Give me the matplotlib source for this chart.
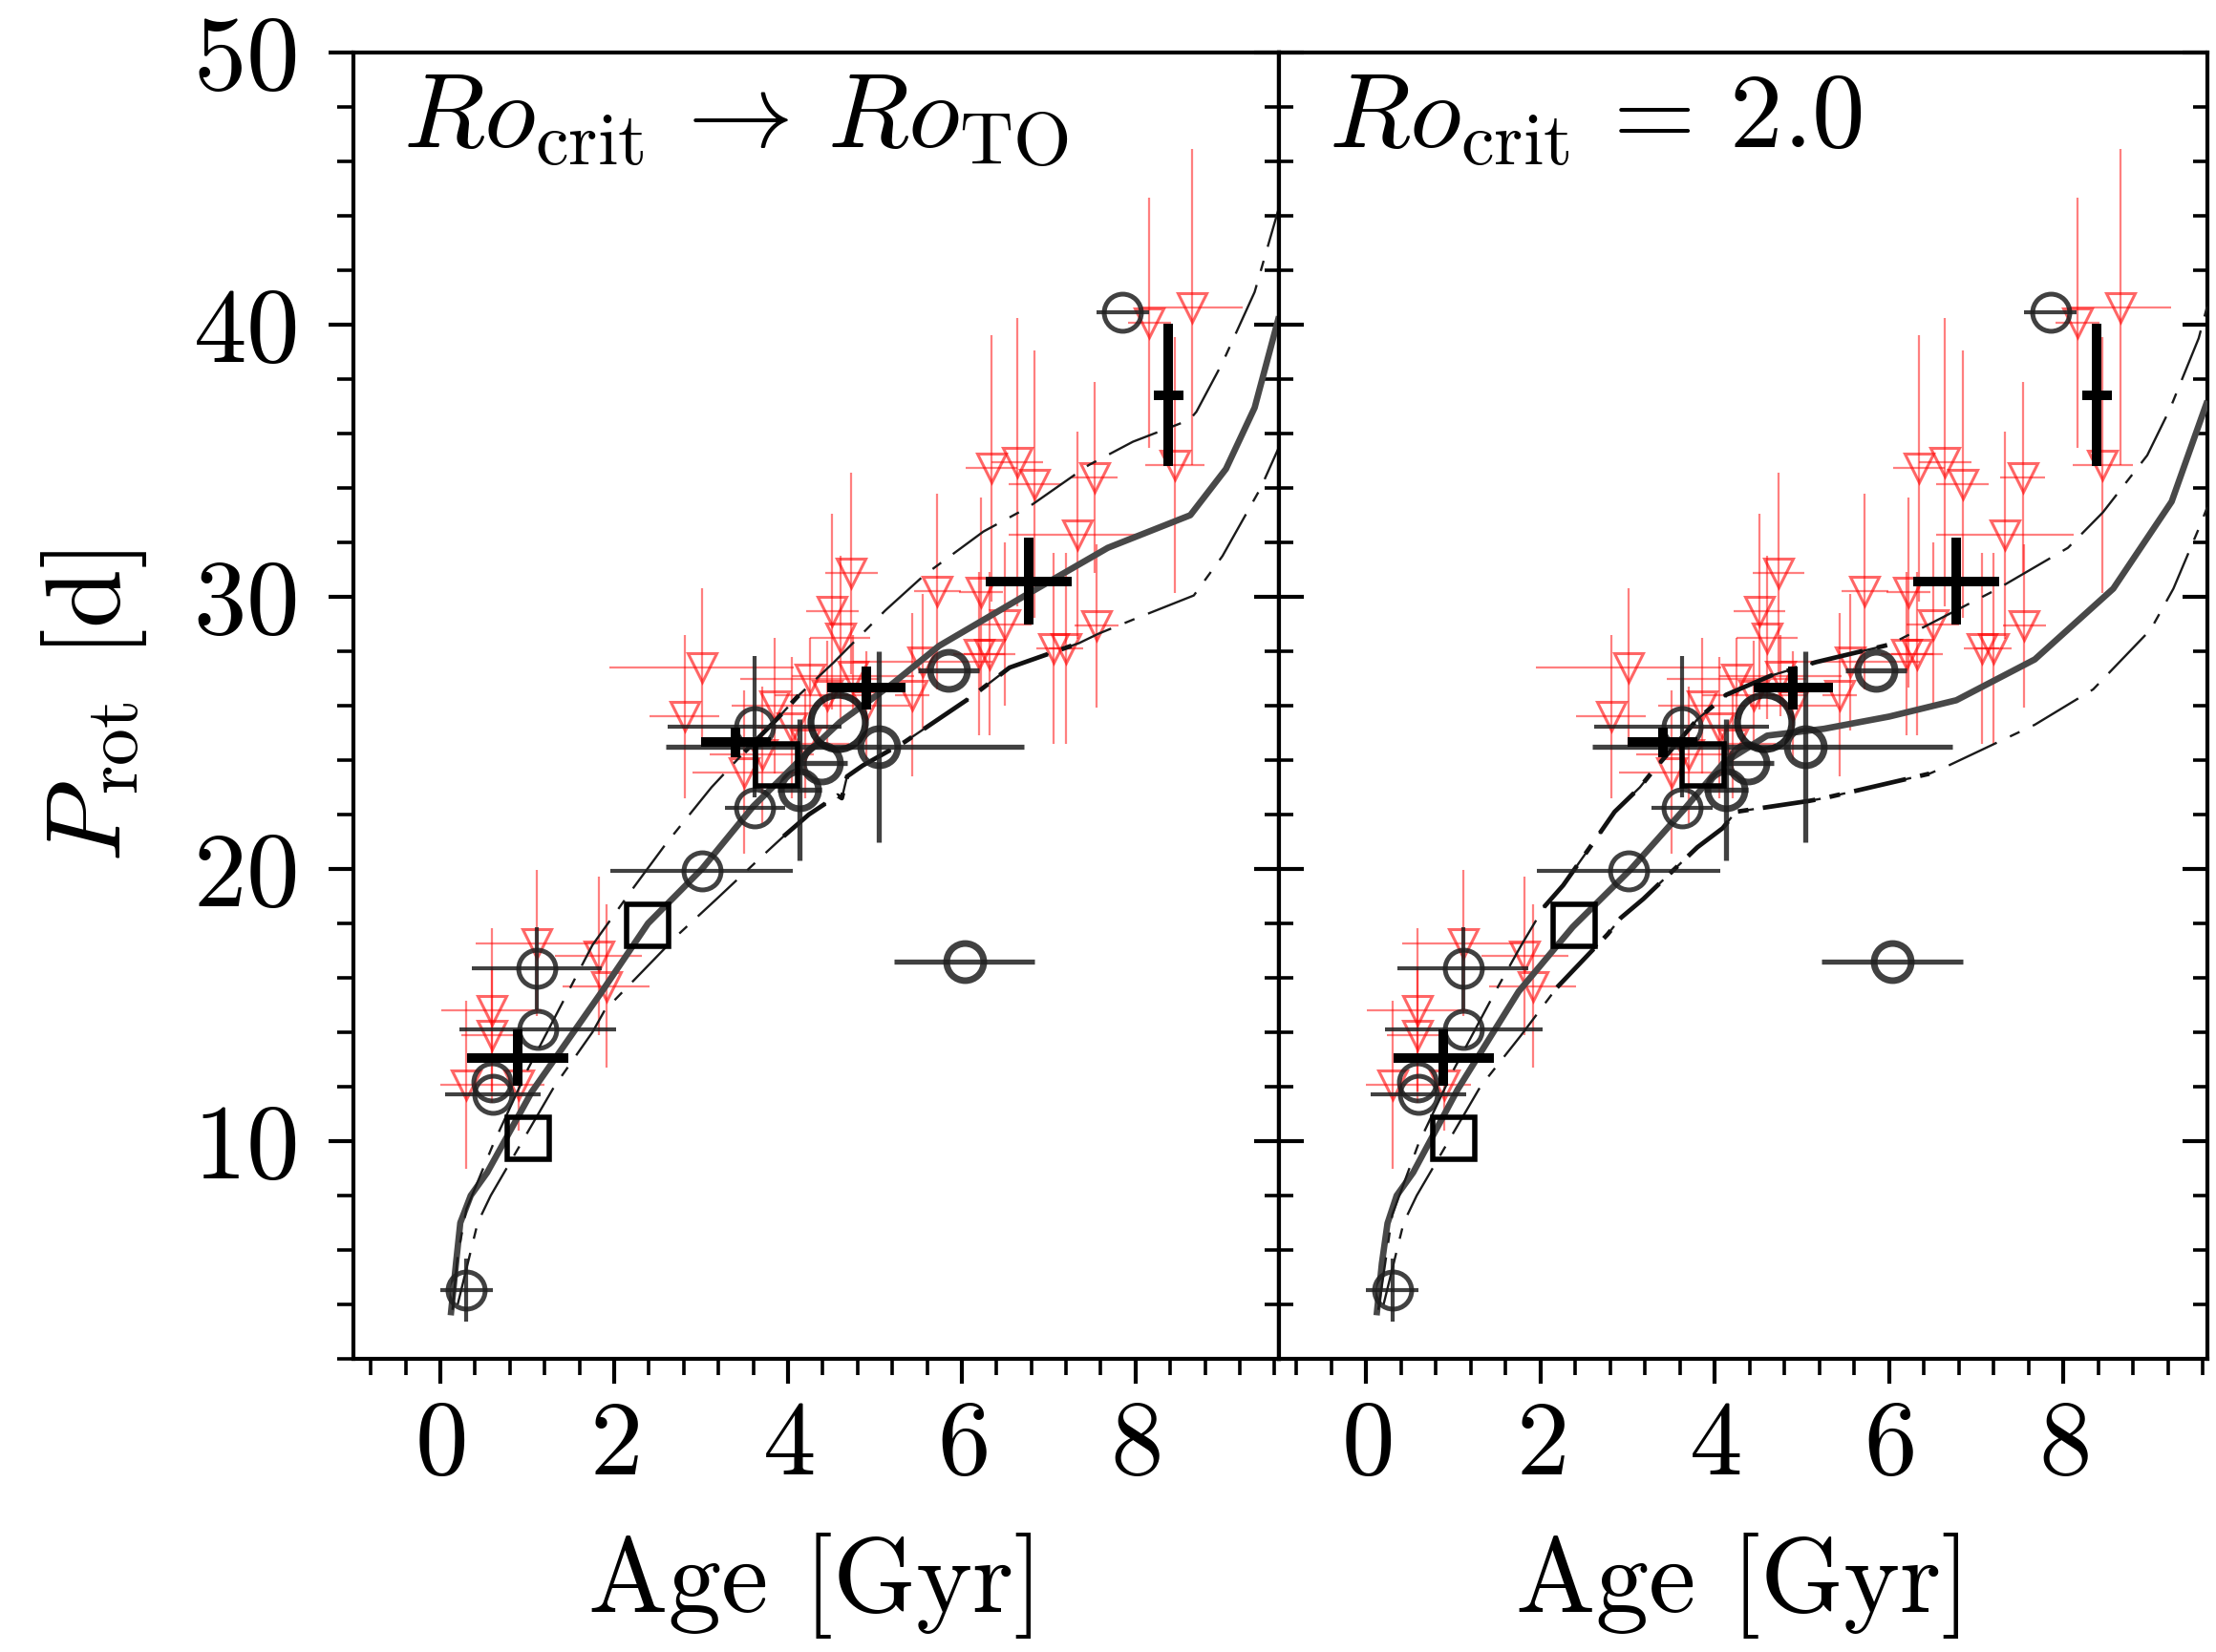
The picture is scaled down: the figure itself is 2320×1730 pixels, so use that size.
import numpy as np
import matplotlib
matplotlib.use('Agg')
import matplotlib.pyplot as plt
from matplotlib.ticker import MultipleLocator

plt.rcParams['font.family'] = ['cmr10', 'DejaVu Serif']
plt.rcParams['mathtext.fontset'] = 'cm'
plt.rcParams['axes.formatter.use_mathtext'] = True
plt.rcParams['lines.scale_dashes'] = False

# ---------------- data ----------------
# red open triangles (age [Gyr], Prot [d], errors)
tri_age = [0.30, 0.59, 0.59, 0.90, 1.11, 1.82, 1.91, 3.01, 2.81, 3.50, 4.73, 4.51, 4.60,
           5.72, 6.22, 6.50, 5.43, 3.85, 4.05, 4.25, 4.45, 4.75, 4.90, 3.70, 4.20,
           8.16, 8.65, 8.45, 6.34, 6.64, 6.84, 7.53, 7.33, 7.55, 7.06, 7.20, 6.20, 6.32, 5.55]
tri_p = [12.07, 14.82, 13.90, 12.07, 17.28, 16.81, 15.70, 27.41, 25.60, 23.55, 30.86, 29.46, 28.50,
         30.20, 30.16, 29.00, 26.40, 26.00, 25.20, 27.00, 26.40, 27.10, 26.00, 24.20, 24.60,
         40.06, 40.64, 34.84, 34.73, 34.96, 34.14, 34.38, 32.27, 28.93, 28.10, 28.10, 27.90, 27.90, 27.60]
tri_xerr = [0.30, 0.58, 0.35, 0.30, 0.70, 0.50, 0.50, 1.06, 0.40, 0.60, 0.30, 0.30, 0.35,
            0.27, 0.25, 0.30, 0.20, 0.50, 0.40, 0.80, 0.60, 0.70, 0.50, 0.60, 0.50,
            0.25, 0.58, 0.34, 0.30, 0.30, 0.30, 0.26, 0.79, 0.25, 0.20, 0.20, 0.30, 0.30, 0.80]
tri_yerr = [3.1, 3.0, 2.5, 1.7, 2.7, 2.9, 3.0, 2.9, 3.0, 3.0, 3.7, 3.6, 3.0,
            3.6, 3.5, 3.0, 3.0, 2.5, 2.6, 1.5, 2.0, 1.5, 2.0, 2.5, 2.0,
            4.6, 5.8, 4.7, 4.9, 5.3, 4.9, 3.5, 3.8, 3.0, 3.5, 3.5, 3.0, 3.0, 2.5]

# grey open circles (thin)
circ_age = [0.30, 0.59, 0.60, 1.11, 1.12, 3.01, 3.62, 3.62, 7.85]
circ_p = [4.52, 12.19, 11.72, 16.35, 14.12, 19.92, 22.26, 25.24, 40.46]
circ_xerr = [0.30, 0.00, 0.55, 0.75, 0.90, 1.05, 0.35, 1.00, 0.30]
circ_yerr = [1.15, 0.00, 0.00, 1.50, 0.00, 0.00, 0.00, 2.60, 0.00]

# grey open circles (thick)
thk_age = [4.13, 4.38, 5.04, 5.85, 6.03]
thk_p = [22.90, 23.90, 24.49, 27.30, 16.60]
thk_xerr_lo = [0.25, 0.30, 2.45, 0.35, 0.81]
thk_xerr_hi = [0.25, 0.30, 1.68, 0.35, 0.81]
thk_yerr = [2.60, 0.00, 3.50, 0.00, 0.00]

# the Sun
sun_age = [4.57]
sun_p = [25.40]

# open squares
sq_age = [1.01, 2.39, 3.87]
sq_p = [10.12, 17.93, 23.84]

# black error crosses
crs_age = [0.89, 3.40, 4.90, 6.77, 8.38]
crs_p = [13.07, 24.66, 26.65, 30.57, 37.42]
crs_xerr = [0.58, 0.40, 0.45, 0.49, 0.17]
crs_yerr = [1.05, 0.55, 0.80, 1.60, 2.60]

# model tracks, left panel (Ro_crit -> Ro_TO)
L_mid_age = [0.12, 0.18, 0.23, 0.35, 0.54, 1.05, 1.86, 2.39, 3.01, 3.60, 4.20, 4.60, 5.20, 5.74,
             6.73, 7.68, 8.63, 9.04, 9.37, 9.65]
L_mid_p = [3.6, 5.5, 7.0, 8.0, 8.85, 11.8, 15.5, 18.0, 20.0, 22.3, 24.2, 25.4, 26.8, 28.2,
           30.05, 31.8, 33.0, 34.7, 36.95, 40.3]
L_up_age = [0.14, 0.20, 0.30, 0.61, 1.00, 1.75, 2.22, 2.59, 3.12, 3.50, 3.87, 4.13, 4.53, 5.12,
            5.57, 6.25, 6.77, 7.46, 7.97, 8.62, 8.70, 9.00, 9.37, 9.65]
L_up_p = [3.8, 5.8, 7.5, 9.9, 12.6, 17.2, 19.3, 20.9, 23.0, 24.3, 25.5, 26.4, 27.6, 29.5,
          30.8, 32.4, 33.3, 34.84, 35.7, 36.5, 36.8, 38.6, 41.2, 44.3]
L_lo_age = [0.20, 0.43, 0.58, 1.31, 1.75, 1.89, 2.74, 3.18, 3.78, 3.95, 4.24, 4.57, 4.62, 4.68,
            4.86, 5.34, 6.10, 6.55, 7.35, 7.57, 8.00, 8.67, 9.00, 9.44, 9.65]
L_lo_p = [4.0, 7.0, 8.0, 12.0, 14.0, 14.8, 17.6, 18.9, 20.7, 21.2, 22.0, 22.7, 22.6, 23.4,
          23.8, 24.66, 26.3, 27.4, 28.3, 28.64, 29.2, 30.05, 31.5, 34.0, 35.5]

# model tracks, right panel (Ro_crit = 2.0)
R_mid_age = [0.12, 0.18, 0.245, 0.35, 0.54, 1.05, 1.75, 2.37, 3.03, 3.65, 4.10, 4.60, 5.25,
             6.00, 6.77, 7.67, 8.57, 9.24, 9.65]
R_mid_p = [3.6, 5.5, 6.98, 8.0, 8.85, 11.9, 15.5, 17.87, 19.97, 22.2, 23.9, 24.9, 25.15,
           25.6, 26.2, 27.7, 30.3, 33.5, 37.2]
R_up_age = [0.14, 0.30, 0.60, 1.00, 1.50, 1.78, 2.04, 2.26, 2.59, 2.85, 3.14, 3.29, 3.80, 4.13,
            4.64, 5.16, 6.01, 7.22, 8.05, 8.45, 8.96, 9.22, 9.55, 9.65]
R_up_p = [3.8, 7.3, 9.9, 12.6, 15.6, 17.2, 18.6, 19.4, 20.9, 22.1, 23.0, 23.6, 25.5, 26.4,
          27.1, 27.6, 28.25, 30.25, 31.8, 33.1, 35.2, 36.9, 39.5, 40.7]
R_lo_age = [0.20, 0.43, 0.58, 1.31, 1.78, 2.19, 2.77, 2.92, 3.18, 3.80, 4.09, 4.24, 5.08, 5.25,
            6.46, 6.68, 7.67, 8.34, 9.00, 9.26, 9.55, 9.65]
R_lo_p = [4.0, 7.0, 8.0, 12.0, 13.9, 15.65, 17.6, 18.2, 18.9, 20.8, 21.5, 22.1, 22.5, 22.6,
          23.5, 23.8, 25.3, 26.6, 28.8, 30.3, 32.5, 33.3]

panel_labels = [r'$Ro_{\rm crit}\,\rightarrow\,Ro_{\rm TO}$', r'$Ro_{\rm crit}\,=\,2.0$']
xlabel = 'Age [Gyr]'
ylabel = r'$P_{\rm rot}$ [d]'

# ---------------- styling ----------------
FS = 80
DASHDOT = (0, (40, 11, 8, 11))


def piece(ages, ps, lo, hi):
    a = np.asarray(ages)
    p = np.asarray(ps)
    m = (a >= lo) & (a <= hi)
    return a[m], p[m]


def draw_panel(ax, mid, up, lo, up_thick, lo_thick):
    # data
    ax.errorbar(tri_age, tri_p, xerr=tri_xerr, yerr=tri_yerr, fmt='v', ms=21,
                mfc='none', mec=(1, 0, 0, 0.6), mew=2.2, ecolor=(1, 0, 0, 0.5),
                elinewidth=1.6, capsize=0, zorder=2)
    # tracks
    ax.plot(*mid, color='#484848', lw=4.8, zorder=3, solid_capstyle='butt')
    ax.plot(*up, color='#1a1a1a', lw=1.7, ls=DASHDOT, zorder=3)
    ax.plot(*lo, color='#1a1a1a', lw=1.7, ls=DASHDOT, zorder=3)
    for seg in up_thick:
        ax.plot(*piece(up[0], up[1], *seg), color='#111111', lw=3.4, ls=DASHDOT, zorder=3)
    for seg in lo_thick:
        ax.plot(*piece(lo[0], lo[1], *seg), color='#111111', lw=3.4, ls=DASHDOT, zorder=3)

    ax.errorbar(circ_age, circ_p, xerr=circ_xerr, yerr=circ_yerr, fmt='o', ms=28,
                mfc='none', mec=(0.12, 0.12, 0.12, 0.85), mew=3.6,
                ecolor=(0.12, 0.12, 0.12, 0.85), elinewidth=3.0, capsize=0, zorder=4)
    ax.errorbar(thk_age, thk_p, xerr=[thk_xerr_lo, thk_xerr_hi], yerr=thk_yerr, fmt='o', ms=28,
                mfc='none', mec=(0.12, 0.12, 0.12, 0.85), mew=5.0,
                ecolor=(0.12, 0.12, 0.12, 0.85), elinewidth=3.8, capsize=0, zorder=4)
    ax.plot(sun_age, sun_p, 'o', ms=41, mfc='none', mec=(0.08, 0.08, 0.08, 0.9), mew=5.2, zorder=5)
    ax.plot(sq_age, sq_p, 's', ms=31, mfc='none', mec='black', mew=4.0, zorder=5)
    ax.errorbar(crs_age, crs_p, xerr=crs_xerr, yerr=crs_yerr, fmt='none', ecolor='black',
                elinewidth=7.2, capsize=0, zorder=6)

    ax.set_xlim(-1.0, 9.65)
    ax.set_ylim(2, 50)
    ax.xaxis.set_major_locator(MultipleLocator(2))
    ax.xaxis.set_minor_locator(MultipleLocator(0.4))
    ax.yaxis.set_major_locator(MultipleLocator(10))
    ax.yaxis.set_minor_locator(MultipleLocator(2))
    for s in ax.spines.values():
        s.set_linewidth(3.0)
    ax.tick_params(axis='x', which='both', direction='out', top=False, labelsize=FS, pad=12)
    ax.tick_params(axis='x', which='major', length=19, width=3.0)
    ax.tick_params(axis='x', which='minor', length=12, width=2.6)
    ax.set_xlabel(xlabel, fontsize=FS, labelpad=28)


fig = plt.figure(figsize=(23.2, 17.3), dpi=100)
bottom = 1 - 1423 / 1730
height = 1368 / 1730
axL = fig.add_axes([370 / 2320, bottom, 969 / 2320, height])
axR = fig.add_axes([1339 / 2320, bottom, 972 / 2320, height])

draw_panel(axL, (L_mid_age, L_mid_p), (L_up_age, L_up_p), (L_lo_age, L_lo_p),
           up_thick=[(3.5, 4.2)], lo_thick=[(3.9, 7.4)])
draw_panel(axR, (R_mid_age, R_mid_p), (R_up_age, R_up_p), (R_lo_age, R_lo_p),
           up_thick=[(2.0, 6.05)], lo_thick=[(2.1, 6.5)])

# left panel y axis: outward ticks with labels on the left, inward ticks on the right
axL.tick_params(axis='y', which='both', direction='out', left=True, right=False,
                labelsize=FS, pad=24)
axL.tick_params(axis='y', which='major', length=19, width=3.0)
axL.tick_params(axis='y', which='minor', length=12, width=2.6)
sec = axL.secondary_yaxis('right')
sec.yaxis.set_major_locator(MultipleLocator(10))
sec.yaxis.set_minor_locator(MultipleLocator(2))
sec.tick_params(axis='y', which='both', direction='in', labelright=False)
sec.tick_params(axis='y', which='major', length=19, width=3.0)
sec.tick_params(axis='y', which='minor', length=11, width=2.6)
sec.spines['right'].set_linewidth(3.0)
axL.set_ylabel(ylabel, fontsize=FS, labelpad=33)

axR.tick_params(axis='y', which='both', direction='in', left=True, right=True,
                labelleft=False)
axR.tick_params(axis='y', which='major', length=19, width=3.0)
axR.tick_params(axis='y', which='minor', length=11, width=2.6)

axL.text(0.054, 0.927, panel_labels[0], transform=axL.transAxes, fontsize=80, ha='left',
         va='baseline')
axR.text(0.053, 0.927, panel_labels[1], transform=axR.transAxes, fontsize=80, ha='left',
         va='baseline')

fig.savefig('out.png', dpi=100)
